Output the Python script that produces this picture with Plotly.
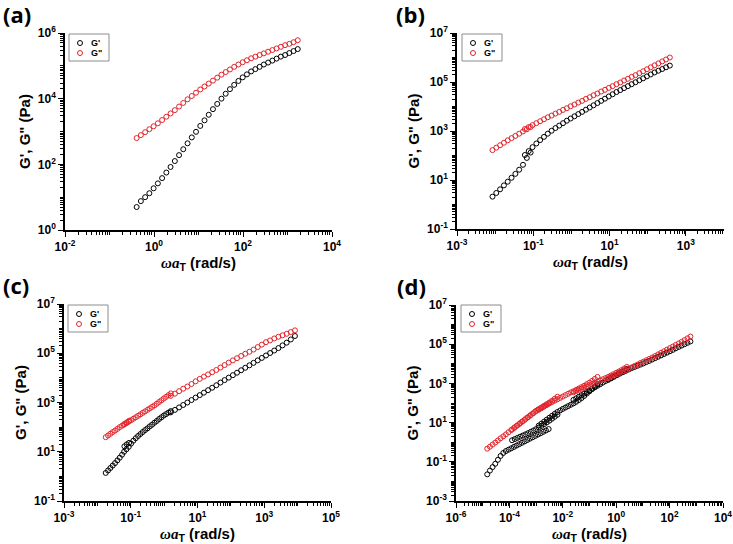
import plotly.graph_objects as go

# ---------------- Data (log10 of values) ----------------
# Panel (a)
a_log_w = [-0.39, -0.295, -0.199, -0.104, -0.009, 0.087, 0.182, 0.277, 0.372, 0.468,
           0.563, 0.658, 0.754, 0.849, 0.944, 1.040, 1.135, 1.230, 1.325, 1.421,
           1.516, 1.611, 1.707, 1.802, 1.897, 1.993, 2.088, 2.183, 2.278, 2.374,
           2.469, 2.564, 2.660, 2.755, 2.850, 2.946, 3.041, 3.136, 3.231]
a_log_Gp = [0.70, 0.88, 1.00, 1.12, 1.27, 1.42, 1.58, 1.75, 1.92, 2.10,
            2.28, 2.46, 2.64, 2.82, 2.99, 3.17, 3.34, 3.51, 3.68, 3.84,
            4.00, 4.15, 4.29, 4.42, 4.54, 4.65, 4.74, 4.83, 4.90, 4.97,
            5.04, 5.10, 5.16, 5.22, 5.28, 5.33, 5.39, 5.45, 5.51]
a_log_Gpp = [2.80, 2.89, 2.98, 3.07, 3.16, 3.25, 3.35, 3.45, 3.55, 3.65,
             3.76, 3.87, 3.98, 4.08, 4.18, 4.28, 4.37, 4.46, 4.55, 4.64,
             4.73, 4.81, 4.89, 4.97, 5.04, 5.11, 5.17, 5.23, 5.28, 5.33,
             5.38, 5.43, 5.48, 5.53, 5.58, 5.63, 5.67, 5.72, 5.78]

# Panel (b)
b_log_w = [-2.07, -1.97, -1.87, -1.77, -1.67, -1.57, -1.47, -1.37, -1.27, -1.17, -1.07,
           -1.22, -1.12, -1.02, -0.92, -0.82, -0.72, -0.62, -0.52, -0.42, -0.32,
           -0.22, -0.12, -0.02, 0.08, 0.18, 0.28, 0.38, 0.48, 0.58, 0.68,
           0.78, 0.88, 0.98, 1.08, 1.18, 1.28, 1.38, 1.48, 1.58, 1.68,
           1.78, 1.88, 1.98, 2.08, 2.18, 2.28, 2.38, 2.48, 2.58]
b_log_Gp = [0.32, 0.47, 0.62, 0.78, 0.93, 1.09, 1.25, 1.42, 1.62, 1.90, 2.12,
            2.02, 2.18, 2.34, 2.49, 2.63, 2.76, 2.89, 3.01, 3.12, 3.22,
            3.32, 3.42, 3.51, 3.60, 3.69, 3.78, 3.87, 3.96, 4.05, 4.14,
            4.23, 4.32, 4.41, 4.50, 4.59, 4.67, 4.75, 4.83, 4.91, 4.99,
            5.07, 5.15, 5.23, 5.31, 5.39, 5.46, 5.53, 5.60, 5.67]
b_log_Gpp = [2.22, 2.32, 2.42, 2.52, 2.62, 2.71, 2.80, 2.89, 2.98, 3.07, 3.16,
             3.08, 3.16, 3.24, 3.32, 3.40, 3.48, 3.56, 3.63, 3.71, 3.78,
             3.86, 3.93, 4.01, 4.08, 4.16, 4.23, 4.31, 4.38, 4.46, 4.53,
             4.61, 4.68, 4.76, 4.83, 4.91, 4.98, 5.06, 5.13, 5.21, 5.28,
             5.36, 5.44, 5.52, 5.60, 5.68, 5.76, 5.84, 5.92, 6.00]

# Panel (c)
c_log_w = [-1.75, -1.68, -1.61, -1.54, -1.47, -1.40, -1.33, -1.26, -1.19, -1.12, -1.05,
           -1.20, -1.13, -1.06, -0.99, -0.92, -0.85, -0.78, -0.71, -0.64, -0.57,
           -0.50, -0.43, -0.36, -0.29, -0.22, -0.15, -0.08, -0.01, 0.06, 0.13, 0.20,
           0.200, 0.324, 0.448, 0.572, 0.696, 0.820, 0.944, 1.068, 1.192, 1.316,
           1.440, 1.564, 1.688, 1.812, 1.936, 2.060, 2.184, 2.308, 2.432, 2.556,
           2.680, 2.804, 2.928, 3.052, 3.176, 3.300, 3.424, 3.548, 3.672, 3.796, 3.920]
c_log_Gp = [0.14, 0.24, 0.34, 0.44, 0.54, 0.65, 0.76, 0.88, 1.22, 1.30, 1.36,
            1.00, 1.10, 1.20, 1.33, 1.45, 1.55, 1.64, 1.72, 1.80, 1.88,
            1.95, 2.03, 2.10, 2.18, 2.25, 2.33, 2.40, 2.47, 2.53, 2.59, 2.65,
            2.60, 2.70, 2.80, 2.90, 3.00, 3.10, 3.20, 3.30, 3.40, 3.50,
            3.60, 3.70, 3.81, 3.91, 4.01, 4.11, 4.21, 4.31, 4.41, 4.51,
            4.61, 4.71, 4.81, 4.91, 5.01, 5.11, 5.21, 5.32, 5.43, 5.56, 5.70]
c_log_Gpp = [1.59, 1.66, 1.73, 1.80, 1.86, 1.93, 2.00, 2.06, 2.13, 2.19, 2.26,
             2.10, 2.16, 2.22, 2.28, 2.34, 2.40, 2.46, 2.52, 2.58, 2.64,
             2.70, 2.76, 2.82, 2.88, 2.95, 3.02, 3.09, 3.16, 3.23, 3.30, 3.37,
             3.27, 3.36, 3.46, 3.56, 3.65, 3.75, 3.86, 3.96, 4.05, 4.14,
             4.23, 4.32, 4.42, 4.52, 4.62, 4.71, 4.80, 4.89, 4.98, 5.06,
             5.15, 5.25, 5.35, 5.45, 5.52, 5.60, 5.67, 5.73, 5.79, 5.86, 5.93]

# Panel (d)
d_log_w = [-4.83, -4.73, -4.63, -4.53, -4.43, -4.33, -4.23, -4.13, -4.03, -3.93, -3.83, -3.73,
           -3.63, -3.53, -3.43, -3.33, -3.23, -3.13, -3.03, -2.93, -2.83, -2.73, -2.63, -2.53,
           -3.90, -3.80, -3.70, -3.60, -3.50, -3.40, -3.30, -3.20, -3.10, -3.00, -2.90, -2.80,
           -2.70, -2.60, -2.50, -2.40, -2.30, -2.20,
           -2.90, -2.80, -2.70, -2.60, -2.50, -2.40, -2.30, -2.20, -2.10, -2.00, -1.90, -1.80,
           -1.70, -1.60, -1.50, -1.40, -1.30, -1.20, -1.10, -1.00, -0.90, -0.80, -0.70,
           -1.60, -1.50, -1.40, -1.30, -1.20, -1.10, -1.00, -0.90, -0.80, -0.70, -0.60, -0.50,
           -0.40, -0.30, -0.20, -0.10, 0.00, 0.10, 0.20, 0.30, 0.40,
           -0.30, -0.19, -0.08, 0.03, 0.14, 0.25, 0.36, 0.47, 0.58, 0.69, 0.80, 0.91, 1.02,
           1.13, 1.24, 1.35, 1.46, 1.57, 1.68, 1.79, 1.90, 2.01, 2.12, 2.23, 2.34, 2.45,
           2.56, 2.67, 2.78]
d_log_Gp = [-1.64, -1.45, -1.27, -1.10, -0.90, -0.70, -0.55, -0.45, -0.38, -0.31, -0.24, -0.17,
            -0.10, -0.03, 0.04, 0.11, 0.18, 0.25, 0.32, 0.39, 0.46, 0.53, 0.60, 0.67,
            0.10, 0.16, 0.22, 0.28, 0.34, 0.40, 0.46, 0.53, 0.60, 0.67, 0.75, 0.83,
            0.92, 1.01, 1.10, 1.20, 1.30, 1.40,
            0.85, 0.95, 1.05, 1.15, 1.25, 1.35, 1.45, 1.54, 1.62, 1.70, 1.77, 1.84,
            1.91, 1.98, 2.06, 2.15, 2.25, 2.36, 2.48, 2.60, 2.72, 2.84, 2.96,
            2.16, 2.24, 2.32, 2.40, 2.48, 2.56, 2.64, 2.72, 2.80, 2.88, 2.96, 3.04,
            3.12, 3.20, 3.28, 3.36, 3.44, 3.52, 3.60, 3.67, 3.74,
            3.18, 3.26, 3.34, 3.42, 3.50, 3.57, 3.64, 3.71, 3.78, 3.84, 3.90, 3.96, 4.02,
            4.09, 4.15, 4.22, 4.29, 4.36, 4.43, 4.50, 4.57, 4.64, 4.71, 4.79, 4.86, 4.93,
            5.00, 5.07, 5.14]
d_log_Gpp = [-0.33, -0.23, -0.12, -0.02, 0.09, 0.20, 0.30, 0.40, 0.51, 0.62, 0.72, 0.83,
             0.93, 1.04, 1.14, 1.25, 1.35, 1.46, 1.56, 1.65, 1.73, 1.81, 1.89, 1.97,
             0.65, 0.76, 0.86, 0.97, 1.07, 1.18, 1.28, 1.39, 1.49, 1.60, 1.69, 1.77,
             1.86, 1.94, 2.03, 2.12, 2.22, 2.32,
             1.66, 1.74, 1.82, 1.90, 1.98, 2.05, 2.12, 2.19, 2.26, 2.33, 2.40, 2.47,
             2.54, 2.60, 2.67, 2.74, 2.81, 2.88, 2.96, 3.04, 3.13, 3.23, 3.33,
             2.55, 2.61, 2.67, 2.73, 2.79, 2.85, 2.91, 2.97, 3.03, 3.09, 3.15, 3.21,
             3.27, 3.33, 3.40, 3.47, 3.54, 3.61, 3.68, 3.76, 3.84,
             3.26, 3.33, 3.40, 3.47, 3.54, 3.61, 3.68, 3.75, 3.82, 3.89, 3.96, 4.04, 4.11,
             4.18, 4.25, 4.32, 4.40, 4.48, 4.56, 4.64, 4.72, 4.80, 4.88, 4.96, 5.04, 5.12,
             5.21, 5.30, 5.39]

# Tick label exponents
a_x_exps = [-2, 0, 2, 4]
a_y_exps = [0, 2, 4, 6]
b_x_exps = [-3, -1, 1, 3]
b_y_exps = [-1, 1, 3, 5, 7]
c_x_exps = [-3, -1, 1, 3, 5]
c_y_exps = [-1, 1, 3, 5, 7]
d_x_exps = [-6, -4, -2, 0, 2, 4]
d_y_exps = [-3, -1, 1, 3, 5, 7]

series_names = ["G'", 'G"']
panel_labels = ["(a)", "(b)", "(c)", "(d)"]

# ---------------- Styling ----------------
W, H = 733, 544
RED = "#e3242b"
BOLD_SANS = "Liberation Sans, Arial, sans-serif"


def px_x(p):
    return p / W


def px_y(p):
    return 1 - p / H


panels = [
    dict(w=a_log_w, gp=a_log_Gp, gpp=a_log_Gpp, xe=a_x_exps, ye=a_y_exps,
         xr=[-2, 4], yr=[0, 6], box=(65, 332, 33, 230), leg=(69, 34), lab=(17, 14)),
    dict(w=b_log_w, gp=b_log_Gp, gpp=b_log_Gpp, xe=b_x_exps, ye=b_y_exps,
         xr=[-3, 4], yr=[-1, 7], box=(457, 724, 33, 229), leg=(462, 34), lab=(410, 14)),
    dict(w=c_log_w, gp=c_log_Gp, gpp=c_log_Gpp, xe=c_x_exps, ye=c_y_exps,
         xr=[-3, 5], yr=[-1, 7], box=(64, 331, 304, 501), leg=(68, 305), lab=(16, 285)),
    dict(w=d_log_w, gp=d_log_Gp, gpp=d_log_Gpp, xe=d_x_exps, ye=d_y_exps,
         xr=[-6, 4], yr=[-3, 7], box=(456, 723, 305, 501), leg=(461, 305), lab=(411, 286)),
]


def minor_vals(lo, hi, major):
    vals = []
    for e in range(lo, hi):
        if e not in major:
            vals.append(10.0 ** e)
        for m in range(2, 10):
            vals.append(m * 10.0 ** e)
    return vals


fig = go.Figure()
layout = dict(
    width=W, height=H, margin=dict(l=0, r=0, t=0, b=0, autoexpand=False),
    paper_bgcolor="white", plot_bgcolor="white", showlegend=False,
    annotations=[], shapes=[],
)

tickfont = dict(family=BOLD_SANS, size=12, color="black", weight="bold")
title_font = dict(family=BOLD_SANS, size=15, color="black", weight="bold")
xtitle = ('<span style="font-family:Liberation Serif, Times New Roman, serif">'
          '<i>ωa</i></span><sub>T</sub> (rad/s)')
leg_font = dict(family=BOLD_SANS, size=9, color="black", weight="bold")

for i, p in enumerate(panels):
    n = "" if i == 0 else str(i + 1)
    xa, ya = "x" + n, "y" + n
    x0, x1, y0, y1 = p["box"]
    for name, vals, col in [(series_names[0], p["gp"], "black"),
                            (series_names[1], p["gpp"], RED)]:
        fig.add_trace(go.Scatter(
            x=[10 ** v for v in p["w"]], y=[10 ** v for v in vals],
            mode="markers", name=name, xaxis=xa, yaxis=ya,
            marker=dict(symbol="circle-open", size=5, color=col, line=dict(width=1, color=col)),
        ))
    common = dict(type="log", showline=True, linecolor="black", linewidth=1.5,
                  ticks="outside", ticklen=5, tickwidth=1.3, tickcolor="black",
                  showgrid=False, zeroline=False, mirror=False, tickmode="array",
                  tickfont=tickfont, automargin=False)
    layout["xaxis" + n] = dict(
        common, range=p["xr"], domain=[px_x(x0), px_x(x1)], anchor=ya,
        tickvals=[10.0 ** e for e in p["xe"]],
        ticktext=["10<sup>%d</sup>" % e for e in p["xe"]],
        minor=dict(tickmode="array", tickvals=minor_vals(p["xr"][0], p["xr"][1], p["xe"]),
                   ticks="outside", ticklen=3, tickwidth=1, tickcolor="black"),
        title=dict(text=xtitle, font=title_font, standoff=2),
    )
    layout["yaxis" + n] = dict(
        common, range=p["yr"], domain=[px_y(y1), px_y(y0)], anchor=xa,
        tickvals=[10.0 ** e for e in p["ye"]],
        ticktext=["10<sup>%d</sup>" % e for e in p["ye"]],
        minor=dict(tickmode="array", tickvals=minor_vals(p["yr"][0], p["yr"][1], p["ye"]),
                   ticks="outside", ticklen=3, tickwidth=1, tickcolor="black"),
        title=dict(text='G\', G" (Pa)', font=title_font, standoff=4),
    )
    # legend box (drawn in paper coordinates)
    lx, ly = p["leg"]
    layout["shapes"].append(dict(
        type="rect", xref="paper", yref="paper",
        x0=px_x(lx), x1=px_x(lx + 40), y0=px_y(ly + 27), y1=px_y(ly),
        line=dict(color="#8c8c8c", width=1), fillcolor="white", layer="below"))
    for j, (name, col) in enumerate([(series_names[0], "black"), (series_names[1], RED)]):
        cy_px = ly + 9 + 10 * j
        layout["shapes"].append(dict(
            type="circle", xref="paper", yref="paper",
            x0=px_x(lx + 8.5), x1=px_x(lx + 13.5), y0=px_y(cy_px + 2.5), y1=px_y(cy_px - 2.5),
            line=dict(color=col, width=1)))
        layout["annotations"].append(dict(
            text=name, x=px_x(lx + 20), y=px_y(cy_px), xref="paper", yref="paper",
            xanchor="left", yanchor="middle", showarrow=False, font=leg_font))
    cx, cy = p["lab"]
    layout["annotations"].append(dict(
        text=panel_labels[i], x=px_x(cx), y=px_y(cy), xref="paper", yref="paper",
        xanchor="center", yanchor="middle", showarrow=False,
        font=dict(family="Open Sans, sans-serif", size=22, color="black", weight="bold"),
    ))

fig.update_layout(**layout)
fig.write_html("out.html", config={"displayModeBar": False},
               post_script="document.body.style.margin='0';document.body.style.padding='0';")
